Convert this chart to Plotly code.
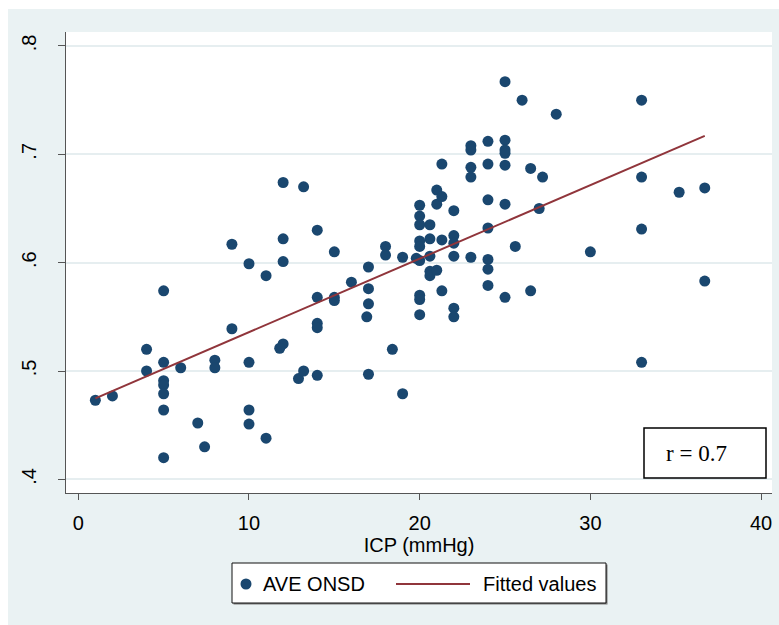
import numpy as np
import plotly.graph_objects as go

# ICP (mmHg) and average optic nerve sheath diameter for each patient
icp = [
    1, 2,
    4, 4,
    5, 5, 5, 5, 5, 5, 5,
    6, 7, 7.4, 8, 8,
    9, 9,
    10, 10, 10, 10,
    11, 11,
    12, 12, 12, 12, 11.8,
    12.9, 13.2, 13.2,
    14, 14, 14, 14, 14,
    15, 15, 15,
    16,
    17, 17, 17, 17, 16.9,
    18, 18, 18.4,
    19, 19,
    20, 20, 20, 20, 20, 20, 20, 20, 20, 19.8,
    20.6, 20.6, 20.6, 20.6, 20.6,
    21, 21, 21,
    21.3, 21.3, 21.3, 21.3,
    22, 22, 22, 22, 22, 22,
    23, 23, 23, 23, 23,
    24, 24, 24, 24, 24, 24, 24,
    25, 25, 25, 25, 25, 25, 25,
    25.6, 26, 26.5, 26.5, 27, 27.2, 28, 30,
    33, 33, 33, 33,
    35.2, 36.7, 36.7,
]
onsd = [
    0.473, 0.477,
    0.520, 0.500,
    0.574, 0.508, 0.491, 0.487, 0.479, 0.464, 0.420,
    0.503, 0.452, 0.430, 0.510, 0.503,
    0.617, 0.539,
    0.599, 0.508, 0.464, 0.451,
    0.588, 0.438,
    0.674, 0.622, 0.601, 0.525, 0.521,
    0.493, 0.500, 0.670,
    0.630, 0.568, 0.544, 0.540, 0.496,
    0.610, 0.568, 0.565,
    0.582,
    0.596, 0.576, 0.562, 0.497, 0.550,
    0.615, 0.607, 0.520,
    0.605, 0.479,
    0.653, 0.643, 0.635, 0.620, 0.615, 0.602, 0.570, 0.566, 0.552, 0.604,
    0.635, 0.622, 0.606, 0.592, 0.588,
    0.593, 0.667, 0.654,
    0.621, 0.574, 0.661, 0.691,
    0.648, 0.625, 0.618, 0.606, 0.558, 0.550,
    0.708, 0.704, 0.688, 0.679, 0.605,
    0.712, 0.691, 0.658, 0.632, 0.603, 0.594, 0.579,
    0.767, 0.713, 0.704, 0.701, 0.690, 0.654, 0.568,
    0.615, 0.750, 0.687, 0.574, 0.650, 0.679, 0.737, 0.610,
    0.750, 0.679, 0.631, 0.508,
    0.665, 0.669, 0.583,
]

x_ticks = [0, 10, 20, 30, 40]
y_ticks = [0.4, 0.5, 0.6, 0.7, 0.8]
y_tick_text = [".4", ".5", ".6", ".7", ".8"]
series_names = ["AVE ONSD", "Fitted values"]
r_label = "r = 0.7"

NAVY = "#1A476F"
MAROON = "#90353B"
BLUISH = "#EAF2F3"
FONT = "Liberation Sans, Arial, sans-serif"
SERIF = "Liberation Serif, Times New Roman, serif"

# linear fit across the observed ICP range
slope, intercept = np.polyfit(icp, onsd, 1)
fit_x = np.array([min(icp), max(icp)])
fit_y = intercept + slope * fit_x

fig = go.Figure()
fig.add_trace(go.Scatter(
    x=icp, y=onsd, mode="markers", name=series_names[0],
    marker=dict(color=NAVY, size=11, line=dict(width=0)),
    showlegend=False,
))
fig.add_trace(go.Scatter(
    x=fit_x, y=fit_y, mode="lines", name=series_names[1],
    line=dict(color=MAROON, width=2),
    showlegend=False,
))

# pixel geometry of the plotting region
L, R, T, B = 66, 772, 32, 493
W, H = R - L, B - T


def px(p):
    return (p - L) / W


def py(p):
    return (B - p) / H


def paper_rect(x0, y0, x1, y1, **kw):
    return dict(type="rect", xref="paper", yref="paper",
                x0=px(x0), x1=px(x1), y0=py(y1), y1=py(y0), **kw)


# key box below the x axis title
LEG_X0, LEG_Y0, LEG_X1, LEG_Y1 = 232, 563, 606, 603
LEG_MID = 584
MARK_X, MARK_R = 246, 5.5
LINE_X0, LINE_X1 = 396, 470
TEXT_X = [262, 482]

shapes = [
    # graph region band and white plot region
    paper_rect(8, 9, 790, 640, layer="below", fillcolor=BLUISH, line=dict(width=0)),
    paper_rect(L, T, R, B, layer="below", fillcolor="white", line=dict(width=0)),
    # correlation box
    paper_rect(644, 428, 766, 478, layer="above", fillcolor="white",
               line=dict(color="black", width=1.5)),
    # key: shadow, frame, marker sample, line sample
    paper_rect(LEG_X0 + 1.5, LEG_Y0 + 1.5, LEG_X1 + 1.5, LEG_Y1 + 1.5, layer="above",
               fillcolor="#7a7a7a", line=dict(width=0)),
    paper_rect(LEG_X0, LEG_Y0, LEG_X1, LEG_Y1, layer="above", fillcolor="white",
               line=dict(color="#111", width=1)),
    dict(type="circle", xref="paper", yref="paper", layer="above",
         x0=px(MARK_X - MARK_R), x1=px(MARK_X + MARK_R),
         y0=py(LEG_MID + MARK_R), y1=py(LEG_MID - MARK_R),
         fillcolor=NAVY, line=dict(width=0)),
    dict(type="line", xref="paper", yref="paper", layer="above",
         x0=px(LINE_X0), x1=px(LINE_X1), y0=py(LEG_MID), y1=py(LEG_MID),
         line=dict(color=MAROON, width=2)),
]

annotations = [dict(
    xref="paper", yref="paper", x=px(696.5), y=py(453),
    text=r_label, showarrow=False, xanchor="center", yanchor="middle",
    font=dict(family=SERIF, size=23, color="black"),
)]
for name, tx in zip(series_names, TEXT_X):
    annotations.append(dict(
        xref="paper", yref="paper", x=px(tx), y=py(LEG_MID),
        text=name, showarrow=False, xanchor="left", yanchor="middle",
        borderpad=0, font=dict(family=FONT, size=20, color="black"),
    ))

fig.update_layout(
    width=779, height=625,
    margin=dict(l=L, r=779 - R, t=T, b=625 - B, pad=0),
    paper_bgcolor="white",
    plot_bgcolor="white",
    font=dict(family=FONT, size=20, color="black"),
    shapes=shapes,
    annotations=annotations,
    showlegend=False,
)
fig.update_xaxes(
    range=[-0.72, 40.64], tickvals=x_ticks, ticks="outside", ticklen=6,
    tickcolor="#555", showline=True, linecolor="#555", linewidth=1,
    showgrid=False, zeroline=False,
    title=dict(text="ICP (mmHg)", standoff=0, font=dict(size=20)),
    tickfont=dict(size=20), ticklabelstandoff=6,
)
fig.update_yaxes(
    range=[0.3874, 0.8129], tickvals=y_ticks, ticktext=y_tick_text,
    tickangle=-90, ticks="outside", ticklen=7,
    tickcolor="#555", showline=True, linecolor="#555", linewidth=1,
    showgrid=True, gridcolor="#E6EEF0", gridwidth=1.5, zeroline=False,
    tickfont=dict(size=20), ticklabelstandoff=14,
)

fig.write_html("out.html")
